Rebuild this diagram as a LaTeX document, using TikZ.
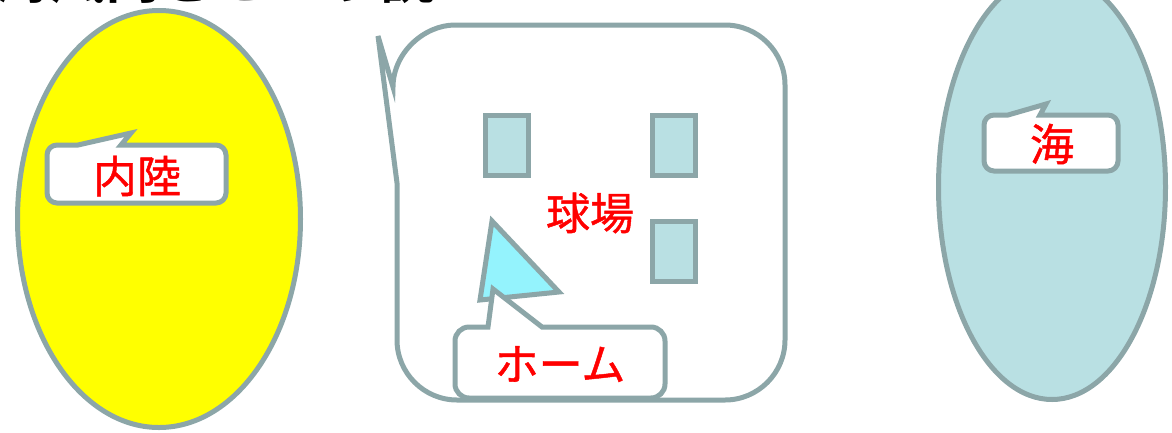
\documentclass[tikz,border=0pt]{standalone}
\usepackage{fontspec}
\newfontfamily\jp{Noto Sans CJK JP}[FakeBold=1]
\newfontfamily\jpb{Noto Sans CJK JP Bold}
\usetikzlibrary{shapes.geometric}
\definecolor{edgegray}{RGB}{140,166,168}
\definecolor{paleblue}{RGB}{185,224,227}
\definecolor{aqua}{RGB}{148,243,253}
\definecolor{brightyellow}{RGB}{255,255,0}
\definecolor{pured}{RGB}{255,0,0}
\tikzset{
  outline/.style={draw=edgegray, line width=5pt},
  zone/.style={outline, ellipse, inner sep=0pt},
  post/.style={outline, fill=paleblue, rectangle, inner sep=0pt, minimum width=43pt, minimum height=60pt},
  calloutshape/.style={outline, fill=white, line join=miter},
  redlabel/.style={text=pured, font=\jp\fontsize{44}{48}\selectfont, inner sep=0pt},
}
\begin{document}
\begin{tikzpicture}[x=1pt,y=-1pt]
\useasboundingbox (0,0) rectangle (1172,432);
% title (mostly outside the picture)
\node[anchor=base west, inner sep=0pt, font=\jpb\fontsize{55}{60}\selectfont] (title) at (-5,-2) {海風向きという説};
% zones
\node[zone, fill=brightyellow, minimum width=283pt, minimum height=417pt] (inland) at (159,219) {};
\node[zone, fill=paleblue, minimum width=227pt, minimum height=425pt] (sea) at (1052,187) {};
% big speech bubble (stadium)
\draw[calloutshape] (378,36) -- (393,87)
  .. controls (393,53) and (424,25) .. (455,25) -- (725,25)
  .. controls (758,25) and (785,52) .. (785,85) -- (785,340)
  .. controls (785,373) and (758,400) .. (725,400) -- (457,400)
  .. controls (424,400) and (397,373) .. (397,340) -- (397,183) -- cycle;
% posts
\node[post] (p1) at (507,145.5) {};
\node[post] (p2) at (673.5,145.5) {};
\node[post] (p3) at (673.5,251) {};
% home triangle
\draw[outline, fill=aqua, line join=miter] (492,221) -- (480,300) -- (559,292) -- cycle;
% callout: 内陸
\draw[calloutshape] (78,145) -- (131,133) -- (121,145) -- (216,145)
  .. controls (221.5,145) and (226,149.5) .. (226,155) -- (226,193)
  .. controls (226,198.5) and (221.5,203) .. (216,203) -- (57,203)
  .. controls (51.5,203) and (47,198.5) .. (47,193) -- (47,155)
  .. controls (47,149.5) and (51.5,145) .. (57,145) -- cycle;
\node[redlabel] (inlandlabel) at (137,176) {内陸};
% callout: 海
\draw[calloutshape] (1008,115) -- (1046,104) -- (1040,115) -- (1108,115)
  .. controls (1113.5,115) and (1118,119.5) .. (1118,125) -- (1118,161)
  .. controls (1118,166.5) and (1113.5,171) .. (1108,171) -- (994,171)
  .. controls (988.5,171) and (984,166.5) .. (984,161) -- (984,125)
  .. controls (984,119.5) and (988.5,115) .. (994,115) -- cycle;
\node[redlabel] (sealabel) at (1052,144) {海};
% callout: ホーム
\draw[calloutshape] (488,327) -- (493,289) -- (542,327) -- (651,327)
  .. controls (658.7,327) and (665,333.3) .. (665,341) -- (665,384)
  .. controls (665,391.7) and (658.7,398) .. (651,398) -- (469,398)
  .. controls (461.3,398) and (455,391.7) .. (455,384) -- (455,341)
  .. controls (455,333.3) and (461.3,327) .. (469,327) -- cycle;
\node[redlabel] (homelabel) at (560,364) {ホーム};
% stadium label
\node[redlabel] (stadiumlabel) at (590,213) {球場};
\end{tikzpicture}
\end{document}
